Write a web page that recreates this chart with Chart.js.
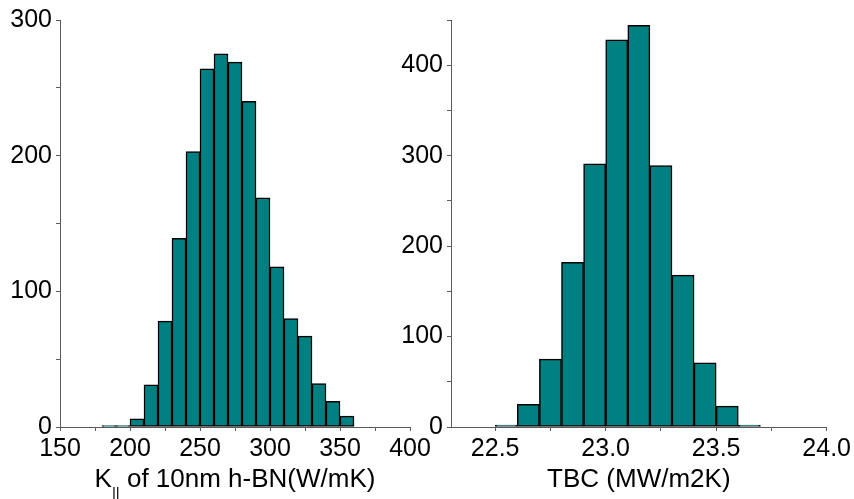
<!doctype html>
<html lang="en">

<head>
    <meta charset="utf-8">
    <title>Histograms</title>
    <script src="https://cdn.jsdelivr.net/npm/chart.js@4.4.0/dist/chart.umd.min.js"></script>
    <style>
        body { margin: 0; background: #fff; }
        #wrap { position: relative; width: 854px; height: 499px; }
        #box1 { position: absolute; left: 0; top: 0; width: 440px; height: 499px; }
        #box2 { position: absolute; left: 380px; top: 0; width: 474px; height: 499px; }
    </style>
</head>

<body>
    <div id="wrap">
        <div id="box1"><canvas id="chartK"></canvas></div>
        <div id="box2"><canvas id="chartT"></canvas></div>
    </div>
</body>
<script>
    // left histogram: K|| of 10nm h-BN
    const kBinStart = [180, 190, 200, 210, 220, 230, 240, 250, 260, 270, 280, 290, 300, 310, 320, 330, 340, 350];
    const kCounts = [1, 1, 6, 31, 78, 139, 203, 264, 275, 269, 240, 169, 118, 80, 67, 32, 19, 8];
    const kBinWidth = 10;
    const kTicks = [150, 175, 200, 225, 250, 275, 300, 325, 350, 375, 400];

    // right histogram: TBC
    const tBinStart = [22.5, 22.6, 22.7, 22.8, 22.9, 23.0, 23.1, 23.2, 23.3, 23.4, 23.5, 23.6];
    const tCounts = [2, 25, 75, 182, 291, 428, 444, 289, 168, 71, 23, 2];
    const tBinWidth = 0.1;
    const tTicks = [22.5, 22.75, 23.0, 23.25, 23.5, 23.75, 24.0];

    const font = '"Liberation Sans", Arial, sans-serif';
    const axisColor = '#5a5a5a';

    // draws x axis title under the chart, with optional subscript part
    const axisTitle = {
        id: 'axisTitle',
        afterDraw(chart, args, opts) {
            let ctx = chart.ctx;
            let area = chart.chartArea;
            let parts = opts.parts;
            ctx.save();
            ctx.fillStyle = '#000';
            ctx.textBaseline = 'alphabetic';
            let widths = [];
            let total = 0;
            for (let p of parts) {
                ctx.font = (p.sub ? '15px ' : '26px ') + font;
                let w = ctx.measureText(p.text).width;
                widths.push(w);
                total += w;
            }
            let x = (area.left + area.right) / 2 - total / 2;
            let y = area.bottom + 60;
            parts.forEach((p, i) => {
                ctx.font = (p.sub ? '15px ' : '26px ') + font;
                ctx.fillText(p.text, x, y + (p.sub ? 11 : 0));
                x += widths[i];
            });
            ctx.restore();
        }
    };

    let makeHist = (id, starts, counts, width, xMin, xMax, xTicks, yMax, yAxisW, padRight, xLabel, titleParts) => {
        let pts = starts.map((s, i) => ({ x: s + width / 2, y: counts[i] }));
        return new Chart(document.getElementById(id), {
            type: 'bar',
            data: {
                datasets: [{
                    data: pts,
                    backgroundColor: '#008080',
                    borderColor: '#000',
                    borderWidth: 1.5,
                    borderSkipped: false,
                    barPercentage: 1,
                    categoryPercentage: 1
                }]
            },
            options: {
                responsive: true,
                maintainAspectRatio: false,
                animation: false,
                layout: { padding: { left: 0, right: padRight, top: 20, bottom: 0 } },
                plugins: {
                    legend: { display: false },
                    tooltip: { enabled: false },
                    axisTitle: { parts: titleParts }
                },
                scales: {
                    x: {
                        type: 'linear',
                        min: xMin,
                        max: xMax,
                        offset: false,
                        grid: { offset: false, drawOnChartArea: false, tickLength: 4, tickColor: axisColor },
                        border: { color: axisColor, width: 1 },
                        ticks: {
                            autoSkip: false,
                            maxRotation: 0,
                            padding: 3,
                            color: '#000',
                            font: { family: font, size: 25 },
                            callback: xLabel
                        },
                        afterBuildTicks: (s) => { s.ticks = xTicks.map(v => ({ value: v })); },
                        afterFit: (s) => { s.height = 72; }
                    },
                    y: {
                        min: 0,
                        max: yMax,
                        grid: { drawOnChartArea: false, tickLength: 4, tickColor: axisColor },
                        border: { color: axisColor, width: 1 },
                        ticks: {
                            stepSize: 50,
                            autoSkip: false,
                            padding: 4,
                            color: '#000',
                            font: { family: font, size: 25 },
                            callback: (v) => (v % 100 === 0 ? v : '')
                        },
                        afterFit: (s) => { s.width = yAxisW; }
                    }
                }
            },
            plugins: [axisTitle]
        });
    };

    makeHist('chartK', kBinStart, kCounts, kBinWidth, 150, 400, kTicks, 300, 60, 30,
        (v) => (v % 50 === 0 ? v : ''),
        [{ text: 'K' }, { text: '||', sub: true }, { text: ' of 10nm h-BN(W/mK)' }]);

    makeHist('chartT', tBinStart, tCounts, tBinWidth, 22.3, 24.0, tTicks, 450, 71, 27,
        (v) => (Math.abs(v * 2 - Math.round(v * 2)) < 1e-6 ? v.toFixed(1) : ''),
        [{ text: 'TBC (MW/m2K)' }]);
</script>

</html>
